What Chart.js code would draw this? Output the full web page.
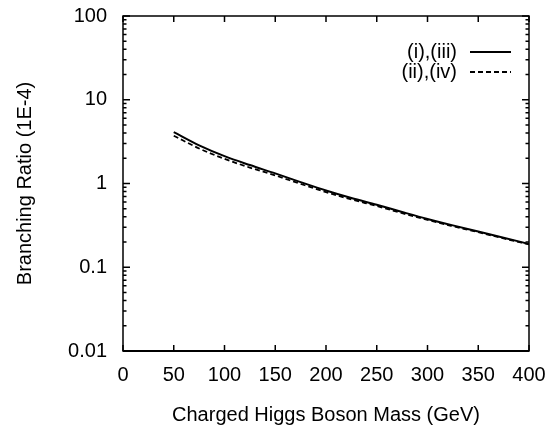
<!DOCTYPE html>
<html>
<head>
<meta charset="utf-8">
<script src="https://cdn.jsdelivr.net/npm/chart.js@4/dist/chart.umd.min.js"></script>
<style>
html,body{margin:0;padding:0;background:#fff;}
#wrap{width:551px;height:432px;}
</style>
</head>
<body>
<div id="wrap"><canvas id="c" width="551" height="432"></canvas></div>
<script>
// ---- data ----
const masses = [50, 75, 100, 125, 150, 175, 200, 225, 250, 275, 300, 325, 350, 375, 400];
const brSolid = [4.1, 2.85, 2.12, 1.66, 1.32, 1.04, 0.826, 0.671, 0.557, 0.457, 0.377, 0.316, 0.267, 0.225, 0.19];
const brDashed = [3.72, 2.62, 1.97, 1.55, 1.25, 0.99, 0.79, 0.645, 0.538, 0.443, 0.367, 0.309, 0.262, 0.221, 0.187];
const seriesLabels = ['(i),(iii)', '(ii),(iv)'];
const xTickValues = [0, 50, 100, 150, 200, 250, 300, 350, 400];
const yTickValues = [0.01, 0.1, 1, 10, 100];
const xTitle = 'Charged Higgs Boson Mass (GeV)';
const yTitle = 'Branching Ratio (1E-4)';

const FONT = '"Liberation Sans", Arial, Helvetica, sans-serif';

const framePlugin = {
  id: 'frame',
  afterDraw(chart) {
    const ctx = chart.ctx;
    const a = chart.chartArea;
    const xs = chart.scales.x, ys = chart.scales.y;
    ctx.save();
    ctx.strokeStyle = '#000';
    ctx.lineWidth = 1.5;
    ctx.strokeRect(a.left, a.top, a.right - a.left, a.bottom - a.top);
    ctx.lineWidth = 2;
    ctx.beginPath(); ctx.moveTo(a.left, a.bottom); ctx.lineTo(a.right, a.bottom); ctx.stroke();
    ctx.lineWidth = 1.5;
    ctx.beginPath();
    xTickValues.forEach(v => {
      const px = xs.getPixelForValue(v);
      ctx.moveTo(px, a.bottom); ctx.lineTo(px, a.bottom - 6);
      ctx.moveTo(px, a.top); ctx.lineTo(px, a.top + 6);
    });
    for (let k = 0; k < yTickValues.length; k++) {
      const dec = yTickValues[k];
      const py = ys.getPixelForValue(dec);
      ctx.moveTo(a.left, py); ctx.lineTo(a.left + 7, py);
      ctx.moveTo(a.right, py); ctx.lineTo(a.right - 7, py);
      if (k < yTickValues.length - 1) {
        for (let d = 2; d <= 9; d++) {
          const pm = ys.getPixelForValue(dec * d);
          ctx.moveTo(a.left, pm); ctx.lineTo(a.left + 3.5, pm);
          ctx.moveTo(a.right, pm); ctx.lineTo(a.right - 3.5, pm);
        }
      }
    }
    ctx.stroke();

    // legend (inside the plot, top right)
    ctx.font = '20px ' + FONT;
    ctx.fillStyle = '#000';
    ctx.textAlign = 'right';
    ctx.textBaseline = 'middle';
    chart.data.datasets.forEach((ds, i) => {
      const y = 52 + i * 20;
      ctx.fillText(ds.label, 457, y);
      ctx.save();
      ctx.lineWidth = ds.borderWidth;
      ctx.setLineDash(ds.borderDash || []);
      ctx.beginPath(); ctx.moveTo(470, y); ctx.lineTo(511, y); ctx.stroke();
      ctx.restore();
    });
    ctx.restore();
  }
};

new Chart(document.getElementById('c'), {
  type: 'line',
  data: {
    labels: masses,
    datasets: [
      { label: seriesLabels[0], data: masses.map((m, i) => ({x: m, y: brSolid[i]})),
        borderColor: '#000', borderWidth: 2, pointRadius: 0, fill: false, cubicInterpolationMode: 'monotone' },
      { label: seriesLabels[1], data: masses.map((m, i) => ({x: m, y: brDashed[i]})),
        borderColor: '#000', borderWidth: 1.8, borderDash: [5, 3], pointRadius: 0, fill: false, cubicInterpolationMode: 'monotone' }
    ]
  },
  options: {
    responsive: false,
    devicePixelRatio: 1,
    animation: false,
    layout: { padding: { top: 16, right: 22, left: 0, bottom: 0 } },
    plugins: { legend: { display: false }, tooltip: { enabled: false } },
    scales: {
      x: {
        type: 'linear', min: 0, max: 400,
        afterBuildTicks: s => { s.ticks = xTickValues.map(v => ({value: v})); },
        afterFit: s => { s.height = 81; s.paddingLeft = 0; s.paddingRight = 0; },
        grid: { display: false, drawTicks: false },
        border: { display: false },
        ticks: { color: '#000', font: { family: FONT, size: 20 }, padding: 12, autoSkip: false, maxRotation: 0 },
        title: { display: true, text: xTitle, color: '#000', font: { family: FONT, size: 20 }, padding: { top: 0, bottom: 5 } }
      },
      y: {
        type: 'logarithmic', min: 0.01, max: 100,
        afterBuildTicks: s => { s.ticks = yTickValues.map(v => ({value: v})); },
        afterFit: s => { s.width = 123; s.paddingTop = 0; s.paddingBottom = 0; },
        grid: { display: false, drawTicks: false },
        border: { display: false },
        ticks: { color: '#000', font: { family: FONT, size: 20 }, padding: 16, autoSkip: false,
                 callback: v => String(v) },
        title: { display: true, text: yTitle, color: '#000', font: { family: FONT, size: 20 }, padding: { top: 13, bottom: 0 } }
      }
    }
  },
  plugins: [framePlugin]
});
</script>
</body>
</html>
